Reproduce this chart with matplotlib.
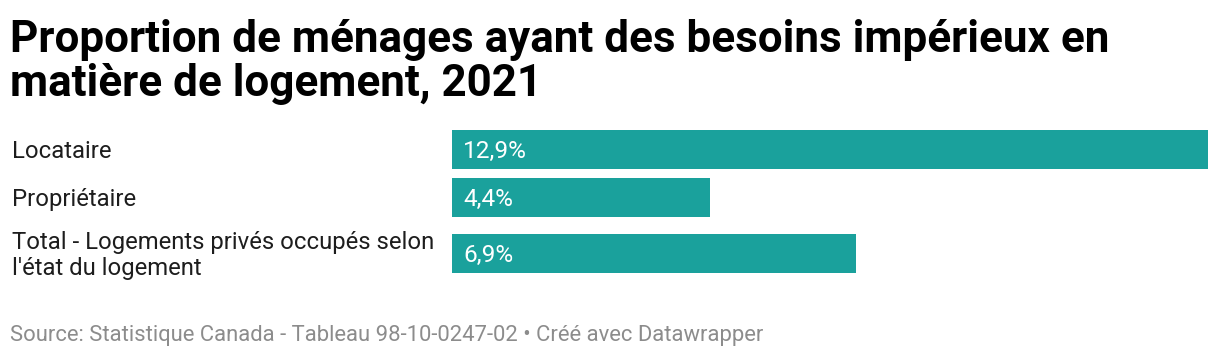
import matplotlib
matplotlib.use("Agg")
import matplotlib.pyplot as plt

categories = ["Locataire", "Propriétaire",
              "Total - Logements privés occupés selon\nl'état du logement"]
values = [12.9, 4.4, 6.9]
value_labels = ["12,9%", "4,4%", "6,9%"]

title = "Proportion de ménages ayant des besoins impérieux en\nmatière de logement, 2021"
footer = "Source: Statistique Canada - Tableau 98-10-0247-02 • Créé avec Datawrapper"

plt.rcParams['font.family'] = ['Roboto', 'DejaVu Sans']

W, H = 1220, 360
fig = plt.figure(figsize=(W / 100, H / 100), dpi=100)
fig.patch.set_facecolor("white")

BAR = "#1aa19c"
positions = [0, 1, 2.17]
bh = 0.82

top_px, bot_px = 130, 273
left_px, right_px = 452, 1208
ax = fig.add_axes([left_px / W, 1 - bot_px / H, (right_px - left_px) / W, (bot_px - top_px) / H])
ax.barh(positions, values, height=bh, color=BAR)
ax.set_xlim(0, max(values))
ax.set_ylim(positions[-1] + bh / 2, positions[0] - bh / 2)
ax.axis("off")

for p, lab in zip(positions, value_labels):
    ax.annotate(lab, xy=(0, p), xycoords="data", xytext=(11, -2),
                textcoords="offset pixels", color="white", fontsize=17.6,
                va="center", ha="left")

for p, cat in zip(positions, categories):
    ax.annotate(cat, xy=(0, p), xycoords=("figure fraction", "data"),
                xytext=(12, -2), textcoords="offset pixels",
                fontsize=17.2, va="center", ha="left", color="#1d1d1d",
                linespacing=1.18)

fig.text(10 / W, 1 - 19 / H, title, fontsize=31.7, fontweight="bold", va="top", ha="left",
         color="#000000", linespacing=1.06)
fig.text(10 / W, 1 - 335 / H, footer, fontsize=15.85, va="center", ha="left", color="#8c8c8c")

fig.savefig("out.png", dpi=100, facecolor="white")
